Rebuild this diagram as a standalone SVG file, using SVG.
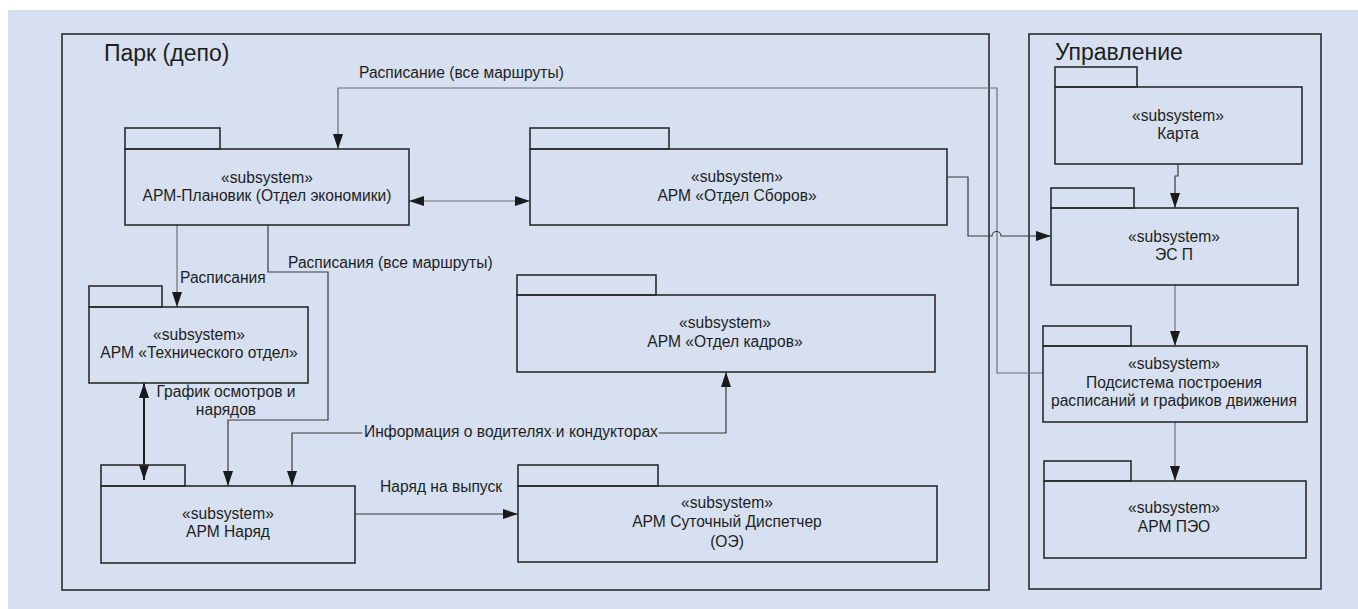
<svg xmlns="http://www.w3.org/2000/svg" width="1358" height="609" viewBox="0 0 1358 609">
<style>
.frame{fill:none;stroke:#2b2b2b;stroke-width:1.6}
.tab,.body{fill:none;stroke:#2b2b2b;stroke-width:1.6}
.t{font-family:"Liberation Sans",Arial,sans-serif;font-size:15.6px;fill:#1e1e1e}
.c{text-anchor:middle}
.title{font-family:"Liberation Sans",Arial,sans-serif;font-size:23px;fill:#1e1e1e}
.con{fill:none;stroke:#3a3a3a;stroke-width:1.2}
.gray{stroke:#707070}
.lbl{paint-order:stroke;stroke:#D6E0F0;stroke-width:6px;stroke-linejoin:round}
</style>
<defs>
<marker id="arr" viewBox="0 0 15 10" refX="15" refY="5" markerWidth="15" markerHeight="10" markerUnits="userSpaceOnUse" orient="auto-start-reverse">
<path d="M0,0 L15,5 L0,10 z" fill="#1a1a1a"/>
</marker>
</defs>
<rect x="0" y="0" width="1358" height="609" fill="#ffffff"/>
<rect x="8" y="10" width="1350" height="599" fill="#D6E0F0"/>

<g id="frame-park">
<rect class="frame" x="62" y="34" width="927" height="556"/>
<text class="title" x="104" y="61">Парк (депо)</text>
</g>
<g id="frame-upr">
<rect class="frame" x="1029" y="34" width="292" height="555"/>
<text class="title" x="1055" y="60">Управление</text>
</g>

<g id="connectors">
<path class="con gray" d="M1043,373 H997 V88 H338 V149" marker-end="url(#arr)"/>
<path class="con gray" d="M409,201 H530" marker-start="url(#arr)" marker-end="url(#arr)"/>
<path class="con" d="M947,177 H968 V236 H992 A4.5,4.5 0 0 1 1001,236 H1051" marker-end="url(#arr)"/>
<path class="con" d="M1178,164 V176 H1175 V208" marker-end="url(#arr)"/>
<path class="con gray" d="M1175,285 V346" marker-end="url(#arr)"/>
<path class="con gray" d="M1175,422 V481" marker-end="url(#arr)"/>
<path class="con gray" d="M177,225 V307" marker-end="url(#arr)"/>
<path class="con" d="M268,225 V272 H328 V420 H228 V486" marker-end="url(#arr)"/>
<path class="con" style="stroke-width:2;stroke:#1a1a1a" d="M144,383 V480" marker-start="url(#arr)" marker-end="url(#arr)"/>
<path class="con" d="M292,486 V433 H726 V372" marker-start="url(#arr)" marker-end="url(#arr)"/>
<path class="con" d="M355,514 H518" marker-end="url(#arr)"/>
<text class="t" x="359" y="78">Расписание (все маршруты)</text>
<text class="t" x="180" y="283">Расписания</text>
<text class="t" x="288" y="268">Расписания (все маршруты)</text>
<text class="t c" x="226" y="397">График осмотров и</text>
<text class="t c" x="226" y="415">нарядов</text>
<text class="t lbl" x="364" y="437">Информация о водителях и кондукторах</text>
<text class="t" x="380" y="492">Наряд на выпуск</text>
</g>

<g id="node-planovik">
<rect class="tab" x="125" y="128" width="95" height="21"/>
<rect class="body" x="125" y="149" width="284" height="76"/>
<text class="t c" x="267" y="183">«subsystem»</text>
<text class="t c" x="267" y="201">АРМ-Плановик (Отдел экономики)</text>
</g>
<g id="node-sborov">
<rect class="tab" x="530" y="128" width="139" height="21"/>
<rect class="body" x="530" y="149" width="417" height="76"/>
<text class="t c" x="737" y="182">«subsystem»</text>
<text class="t c" x="737" y="201">АРМ «Отдел Сборов»</text>
</g>
<g id="node-tech">
<rect class="tab" x="89" y="286" width="73" height="21"/>
<rect class="body" x="89" y="307" width="219" height="76"/>
<text class="t c" x="199" y="340">«subsystem»</text>
<text class="t c" x="199" y="358">АРМ «Технического отдел»</text>
</g>
<g id="node-kadry">
<rect class="tab" x="517" y="275" width="139" height="20"/>
<rect class="body" x="517" y="295" width="418" height="77"/>
<text class="t c" x="725" y="328">«subsystem»</text>
<text class="t c" x="725" y="347">АРМ «Отдел кадров»</text>
</g>
<g id="node-naryad">
<rect class="tab" x="101" y="465" width="84" height="21"/>
<rect class="body" x="101" y="486" width="254" height="77"/>
<text class="t c" x="228" y="519">«subsystem»</text>
<text class="t c" x="228" y="537">АРМ Наряд</text>
</g>
<g id="node-dispatcher">
<rect class="tab" x="518" y="465" width="140" height="21"/>
<rect class="body" x="518" y="486" width="419" height="76"/>
<text class="t c" x="727" y="508">«subsystem»</text>
<text class="t c" x="727" y="527">АРМ Суточный Диспетчер</text>
<text class="t c" x="727" y="547">(ОЭ)</text>
</g>
<g id="node-karta">
<rect class="tab" x="1055" y="67" width="82" height="20"/>
<rect class="body" x="1055" y="87" width="247" height="77"/>
<text class="t c" x="1178" y="121">«subsystem»</text>
<text class="t c" x="1178" y="139">Карта</text>
</g>
<g id="node-esp">
<rect class="tab" x="1051" y="188" width="83" height="20"/>
<rect class="body" x="1051" y="208" width="247" height="77"/>
<text class="t c" x="1174" y="242">«subsystem»</text>
<text class="t c" x="1174" y="260">ЭС П</text>
</g>
<g id="node-podsistema">
<rect class="tab" x="1043" y="326" width="88" height="20"/>
<rect class="body" x="1043" y="346" width="264" height="76"/>
<text class="t c" x="1174" y="369">«subsystem»</text>
<text class="t c" x="1174" y="388">Подсистема построения</text>
<text class="t c" x="1174" y="406">расписаний и графиков движения</text>
</g>
<g id="node-peo">
<rect class="tab" x="1044" y="461" width="87" height="20"/>
<rect class="body" x="1044" y="481" width="262" height="77"/>
<text class="t c" x="1174" y="513">«subsystem»</text>
<text class="t c" x="1174" y="532">АРМ ПЭО</text>
</g>
</svg>
